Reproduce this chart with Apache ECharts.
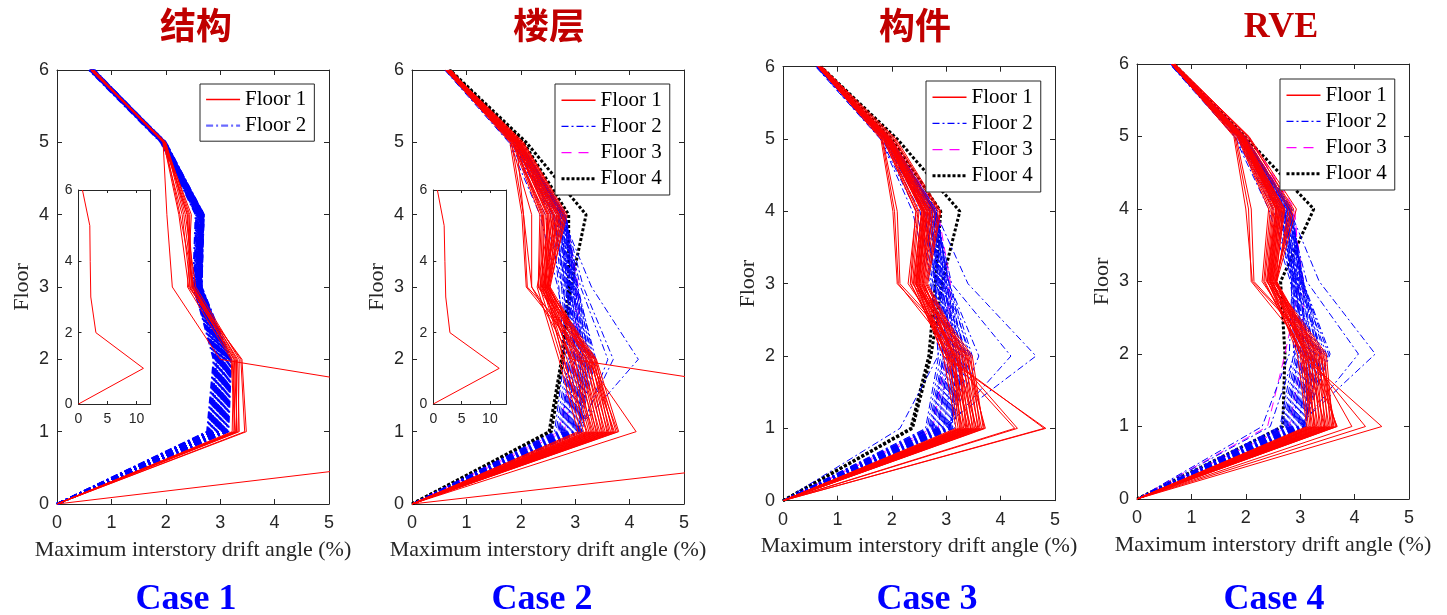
<!DOCTYPE html>
<html><head><meta charset="utf-8">
<script src="https://cdn.jsdelivr.net/npm/echarts@6/dist/echarts.min.js"></script>
<style>html,body{margin:0;padding:0;background:#fff}#c{width:1447px;height:615px}</style>
</head><body><div id="c"></div>
<script>
// ---------------- DATA ----------------
const floors = [0, 1, 2, 3, 4, 5, 6];
const panelTitles = ['结构', '楼层', '构件', 'RVE'];
const caseLabels = ['Case 1', 'Case 2', 'Case 3', 'Case 4'];
const legendNames = ['Floor 1', 'Floor 2', 'Floor 3', 'Floor 4'];
const xAxisName = 'Maximum interstory drift angle (%)';
const yAxisName = 'Floor';

// each row: drift (%) at floors 0..6
const case1Floor1 = [
  [0, 3.22, 3.25, 2.45, 2.30, 1.95, 0.62],
  [0, 3.25, 3.28, 2.48, 2.40, 1.96, 0.63],
  [0, 3.28, 3.22, 2.50, 2.42, 1.97, 0.64],
  [0, 3.30, 3.30, 2.52, 2.26, 1.98, 0.62],
  [0, 3.31, 3.26, 2.44, 2.44, 1.99, 0.65],
  [0, 3.33, 3.35, 2.55, 2.36, 2.00, 0.63],
  [0, 3.48, 3.40, 2.42, 2.24, 1.96, 0.64],
  [0, 3.45, 3.38, 2.47, 2.39, 1.98, 0.66],
  [0, 3.27, 3.20, 2.40, 2.47, 1.97, 0.62],
  [0, 3.35, 3.32, 2.50, 2.33, 1.99, 0.65],
  [0, 11.2, 3.00, 2.12, 2.02, 1.95, 0.68]
];
const case1Floor2 = [
  [0, 2.76, 2.88, 2.52, 2.56, 1.92, 0.60],
  [0, 2.78, 2.90, 2.53, 2.58, 1.93, 0.61],
  [0, 2.80, 2.92, 2.55, 2.60, 1.94, 0.62],
  [0, 2.82, 2.93, 2.56, 2.57, 1.92, 0.60],
  [0, 2.84, 2.95, 2.57, 2.61, 1.95, 0.63],
  [0, 2.85, 2.96, 2.58, 2.63, 1.94, 0.61],
  [0, 2.87, 2.98, 2.56, 2.62, 1.96, 0.62],
  [0, 2.88, 3.00, 2.59, 2.64, 1.93, 0.64],
  [0, 2.90, 3.01, 2.60, 2.60, 1.97, 0.62],
  [0, 2.91, 3.03, 2.58, 2.65, 1.95, 0.63],
  [0, 2.93, 3.04, 2.61, 2.66, 1.96, 0.65],
  [0, 2.94, 3.05, 2.62, 2.63, 1.94, 0.61],
  [0, 2.96, 3.06, 2.60, 2.67, 1.98, 0.64],
  [0, 2.97, 3.08, 2.63, 2.64, 1.95, 0.66],
  [0, 2.98, 3.09, 2.62, 2.68, 1.97, 0.62],
  [0, 3.00, 3.10, 2.64, 2.66, 1.99, 0.65],
  [0, 3.01, 3.11, 2.61, 2.69, 1.96, 0.63],
  [0, 3.03, 3.12, 2.65, 2.67, 1.98, 0.67],
  [0, 3.04, 3.13, 2.63, 2.70, 1.97, 0.64],
  [0, 3.06, 3.14, 2.66, 2.68, 2.00, 0.66],
  [0, 3.07, 3.15, 2.64, 2.69, 1.98, 0.68],
  [0, 3.09, 3.16, 2.62, 2.66, 1.96, 0.65],
  [0, 3.10, 3.17, 2.65, 2.70, 1.99, 0.67],
  [0, 3.12, 3.18, 2.63, 2.67, 1.97, 0.69],
  [0, 3.13, 3.19, 2.66, 2.69, 2.00, 0.66],
  [0, 3.15, 3.20, 2.64, 2.68, 1.98, 0.68],
  [0, 2.79, 2.94, 2.50, 2.55, 1.91, 0.59],
  [0, 2.83, 2.97, 2.54, 2.59, 1.93, 0.62],
  [0, 2.92, 3.02, 2.57, 2.62, 1.95, 0.63],
  [0, 2.99, 3.07, 2.59, 2.65, 1.96, 0.64]
];

const case2Floor1 = [
  [0, 3.05, 2.70, 2.30, 2.55, 1.90, 0.64],
  [0, 3.10, 2.75, 2.35, 2.60, 1.92, 0.65],
  [0, 3.15, 2.80, 2.40, 2.65, 1.95, 0.62],
  [0, 3.20, 2.85, 2.42, 2.70, 1.98, 0.66],
  [0, 3.22, 2.78, 2.45, 2.50, 1.88, 0.63],
  [0, 3.25, 2.90, 2.48, 2.75, 2.00, 0.67],
  [0, 3.28, 2.95, 2.38, 2.45, 1.85, 0.64],
  [0, 3.30, 3.00, 2.50, 2.80, 2.02, 0.68],
  [0, 3.33, 2.92, 2.44, 2.58, 1.93, 0.65],
  [0, 3.35, 3.05, 2.36, 2.40, 1.86, 0.63],
  [0, 3.38, 3.10, 2.52, 2.85, 2.05, 0.69],
  [0, 3.40, 2.98, 2.47, 2.62, 1.96, 0.66],
  [0, 3.42, 3.15, 2.32, 2.35, 1.84, 0.62],
  [0, 3.45, 3.08, 2.41, 2.68, 1.97, 0.67],
  [0, 3.48, 3.20, 2.53, 2.72, 1.99, 0.68],
  [0, 3.50, 3.12, 2.20, 2.20, 1.82, 0.63],
  [0, 3.52, 3.25, 2.46, 2.55, 1.94, 0.65],
  [0, 3.55, 3.18, 2.10, 2.02, 1.80, 0.62],
  [0, 3.58, 3.30, 2.49, 2.78, 2.01, 0.70],
  [0, 3.60, 3.22, 2.43, 2.48, 1.90, 0.64],
  [0, 3.62, 3.35, 2.12, 2.05, 1.83, 0.63],
  [0, 3.65, 3.28, 2.51, 2.66, 1.95, 0.66],
  [0, 3.68, 3.38, 2.39, 2.42, 1.87, 0.64],
  [0, 3.70, 3.32, 2.54, 2.82, 2.04, 0.69],
  [0, 3.72, 3.26, 2.45, 2.52, 1.91, 0.65],
  [0, 3.75, 3.36, 2.33, 2.38, 1.86, 0.63],
  [0, 3.78, 3.30, 2.50, 2.60, 1.94, 0.66],
  [0, 3.80, 3.39, 2.48, 2.70, 1.98, 0.67],
  [0, 4.12, 3.20, 2.40, 2.50, 1.90, 0.64],
  [0, 11.65, 2.94, 2.20, 2.05, 1.92, 0.72]
];
const case2Floor2 = [
  [0, 2.62, 2.80, 2.70, 2.55, 1.82, 0.62],
  [0, 2.65, 2.85, 2.75, 2.60, 1.85, 0.63],
  [0, 2.68, 2.88, 2.78, 2.62, 1.87, 0.61],
  [0, 2.70, 2.92, 2.80, 2.65, 1.88, 0.64],
  [0, 2.72, 2.95, 2.83, 2.68, 1.90, 0.62],
  [0, 2.74, 2.98, 2.85, 2.70, 1.91, 0.65],
  [0, 2.76, 3.00, 2.87, 2.72, 1.92, 0.63],
  [0, 2.78, 3.02, 2.88, 2.66, 1.89, 0.64],
  [0, 2.80, 3.05, 2.90, 2.74, 1.93, 0.66],
  [0, 2.82, 3.08, 2.92, 2.75, 1.94, 0.62],
  [0, 2.84, 3.10, 2.86, 2.70, 1.90, 0.65],
  [0, 2.86, 3.12, 2.95, 2.77, 1.95, 0.67],
  [0, 2.88, 3.15, 2.97, 2.78, 1.96, 0.63],
  [0, 2.90, 3.18, 2.93, 2.73, 1.92, 0.66],
  [0, 2.92, 3.20, 3.00, 2.80, 1.97, 0.64],
  [0, 2.94, 3.22, 2.96, 2.76, 1.94, 0.68],
  [0, 2.96, 3.25, 3.02, 2.82, 1.98, 0.65],
  [0, 2.98, 3.28, 2.99, 2.79, 1.96, 0.67],
  [0, 3.00, 3.30, 3.04, 2.81, 1.99, 0.66],
  [0, 3.02, 3.33, 3.01, 2.77, 1.95, 0.64],
  [0, 3.04, 3.35, 3.05, 2.83, 1.97, 0.68],
  [0, 3.06, 3.38, 3.03, 2.80, 1.98, 0.66],
  [0, 3.08, 3.10, 2.82, 2.60, 1.86, 0.63],
  [0, 3.10, 3.15, 2.89, 2.71, 1.93, 0.65],
  [0, 3.12, 3.05, 2.76, 2.45, 1.80, 0.61],
  [0, 3.14, 3.20, 2.94, 2.74, 1.95, 0.66],
  [0, 2.75, 2.90, 2.68, 2.35, 1.78, 0.60],
  [0, 2.85, 3.00, 2.84, 2.58, 1.84, 0.62],
  [0, 2.95, 3.12, 2.91, 2.69, 1.91, 0.64],
  [0, 3.05, 3.26, 2.98, 2.78, 1.96, 0.66],
  [0, 3.00, 4.16, 3.30, 2.75, 1.95, 0.65],
  [0, 3.05, 3.70, 3.15, 2.80, 1.96, 0.66],
  [0, 3.10, 3.60, 3.10, 2.78, 1.94, 0.64]
];
const case2Floor3 = [
  [0, 2.70, 2.98, 3.02, 2.78, 1.96, 0.65],
  [0, 2.80, 3.05, 3.06, 2.82, 1.98, 0.66]
];
const case2Floor4 = [
  [0, 2.52, 2.75, 2.88, 2.88, 2.05, 0.68],
  [0, 2.56, 2.78, 2.92, 3.20, 2.10, 0.70]
];

const case3Floor1 = [
  [0, 3.18, 2.95, 2.45, 2.60, 1.90, 0.65],
  [0, 3.22, 3.00, 2.50, 2.65, 1.93, 0.66],
  [0, 3.25, 3.05, 2.40, 2.55, 1.88, 0.64],
  [0, 3.28, 3.10, 2.55, 2.70, 1.95, 0.67],
  [0, 3.30, 3.02, 2.35, 2.48, 1.86, 0.65],
  [0, 3.32, 3.15, 2.58, 2.75, 1.98, 0.68],
  [0, 3.35, 3.08, 2.48, 2.62, 1.92, 0.66],
  [0, 3.38, 3.20, 2.30, 2.45, 1.84, 0.64],
  [0, 3.40, 3.12, 2.60, 2.80, 2.00, 0.69],
  [0, 3.42, 3.25, 2.52, 2.68, 1.94, 0.67],
  [0, 3.45, 3.18, 2.12, 2.05, 1.82, 0.65],
  [0, 3.48, 3.30, 2.62, 2.85, 2.03, 0.70],
  [0, 3.50, 3.22, 2.44, 2.58, 1.91, 0.66],
  [0, 3.52, 3.35, 2.10, 2.02, 1.80, 0.64],
  [0, 3.55, 3.28, 2.56, 2.72, 1.97, 0.68],
  [0, 3.58, 3.40, 2.38, 2.50, 1.87, 0.65],
  [0, 3.60, 3.32, 2.64, 2.88, 2.05, 0.71],
  [0, 3.62, 3.45, 2.46, 2.64, 1.93, 0.67],
  [0, 3.65, 3.38, 2.15, 2.10, 1.83, 0.64],
  [0, 3.68, 3.48, 2.53, 2.70, 1.96, 0.69],
  [0, 3.70, 3.42, 2.42, 2.56, 1.90, 0.66],
  [0, 3.72, 3.36, 2.66, 2.90, 2.08, 0.72],
  [0, 3.26, 3.14, 2.50, 2.60, 1.92, 0.66],
  [0, 3.36, 3.24, 2.58, 2.76, 1.99, 0.68],
  [0, 3.46, 3.05, 2.34, 2.44, 1.85, 0.64],
  [0, 3.56, 3.18, 2.47, 2.66, 1.94, 0.67],
  [0, 4.26, 3.05, 2.45, 2.60, 1.92, 0.66],
  [0, 4.31, 3.15, 2.50, 2.65, 1.95, 0.67],
  [0, 4.83, 2.95, 2.40, 2.55, 1.90, 0.65],
  [0, 4.80, 3.00, 2.44, 2.58, 1.91, 0.66]
];
const case3Floor2 = [
  [0, 2.62, 2.86, 2.72, 2.52, 1.82, 0.62],
  [0, 2.65, 2.90, 2.75, 2.58, 1.85, 0.63],
  [0, 2.68, 2.94, 2.78, 2.62, 1.87, 0.61],
  [0, 2.70, 2.97, 2.80, 2.65, 1.88, 0.64],
  [0, 2.72, 3.00, 2.83, 2.68, 1.90, 0.62],
  [0, 2.75, 3.03, 2.85, 2.70, 1.91, 0.65],
  [0, 2.77, 3.06, 2.87, 2.72, 1.92, 0.63],
  [0, 2.80, 3.09, 2.88, 2.66, 1.89, 0.64],
  [0, 2.82, 3.12, 2.90, 2.74, 1.93, 0.66],
  [0, 2.84, 3.15, 2.92, 2.76, 1.94, 0.62],
  [0, 2.86, 3.18, 2.86, 2.70, 1.90, 0.65],
  [0, 2.88, 3.20, 2.95, 2.78, 1.95, 0.67],
  [0, 2.90, 3.23, 2.97, 2.80, 1.96, 0.63],
  [0, 2.92, 3.26, 2.93, 2.73, 1.92, 0.66],
  [0, 2.94, 3.29, 3.00, 2.82, 1.97, 0.64],
  [0, 2.96, 3.32, 2.96, 2.77, 1.94, 0.68],
  [0, 2.98, 3.35, 3.03, 2.83, 1.98, 0.65],
  [0, 3.00, 3.38, 2.99, 2.79, 1.96, 0.67],
  [0, 3.02, 3.42, 3.05, 2.81, 1.99, 0.66],
  [0, 3.04, 3.45, 3.01, 2.84, 1.95, 0.64],
  [0, 3.06, 3.48, 3.06, 2.80, 1.97, 0.68],
  [0, 3.08, 3.20, 2.82, 2.60, 1.86, 0.63],
  [0, 3.10, 3.25, 2.89, 2.71, 1.93, 0.65],
  [0, 3.12, 3.10, 2.76, 2.45, 1.80, 0.61],
  [0, 3.15, 3.30, 2.94, 2.75, 1.95, 0.66],
  [0, 2.74, 2.95, 2.70, 2.38, 1.79, 0.60],
  [0, 2.85, 3.05, 2.84, 2.58, 1.84, 0.62],
  [0, 2.95, 3.16, 2.91, 2.69, 1.91, 0.64],
  [0, 3.05, 3.36, 2.98, 2.78, 1.96, 0.66],
  [0, 2.15, 2.85, 2.80, 2.60, 1.90, 0.64],
  [0, 2.90, 4.65, 3.40, 2.80, 1.95, 0.66],
  [0, 3.00, 4.19, 3.10, 2.80, 1.96, 0.65],
  [0, 3.05, 3.60, 3.05, 2.78, 1.94, 0.64]
];
const case3Floor3 = [
  [0, 2.75, 3.00, 3.05, 2.80, 1.96, 0.65],
  [0, 2.85, 3.05, 3.08, 2.85, 1.98, 0.66]
];
const case3Floor4 = [
  [0, 2.35, 2.68, 2.80, 2.90, 2.00, 0.67],
  [0, 2.38, 2.72, 2.92, 3.25, 2.10, 0.70]
];

const case4Floor1 = [
  [0, 3.12, 2.95, 2.45, 2.60, 1.90, 0.64],
  [0, 3.15, 3.00, 2.50, 2.65, 1.93, 0.65],
  [0, 3.18, 3.05, 2.40, 2.55, 1.88, 0.63],
  [0, 3.20, 3.10, 2.55, 2.70, 1.95, 0.66],
  [0, 3.23, 3.02, 2.35, 2.48, 1.86, 0.64],
  [0, 3.25, 3.15, 2.57, 2.78, 1.98, 0.67],
  [0, 3.28, 3.08, 2.48, 2.62, 1.92, 0.65],
  [0, 3.30, 3.20, 2.30, 2.42, 1.84, 0.63],
  [0, 3.33, 3.12, 2.56, 2.82, 2.00, 0.68],
  [0, 3.35, 3.25, 2.52, 2.68, 1.94, 0.66],
  [0, 3.38, 3.18, 2.10, 2.05, 1.80, 0.64],
  [0, 3.40, 3.30, 2.55, 2.88, 2.03, 0.69],
  [0, 3.43, 3.22, 2.44, 2.58, 1.91, 0.65],
  [0, 3.45, 3.35, 2.12, 2.00, 1.78, 0.63],
  [0, 3.48, 3.28, 2.53, 2.72, 1.97, 0.67],
  [0, 3.50, 3.40, 2.38, 2.50, 1.87, 0.64],
  [0, 3.53, 3.32, 2.57, 2.93, 2.06, 0.70],
  [0, 3.55, 3.45, 2.46, 2.64, 1.93, 0.66],
  [0, 3.58, 3.38, 2.15, 2.10, 1.82, 0.63],
  [0, 3.60, 3.48, 2.50, 2.70, 1.96, 0.68],
  [0, 3.62, 3.42, 2.42, 2.56, 1.90, 0.65],
  [0, 3.65, 3.36, 2.54, 2.85, 2.05, 0.70],
  [0, 3.67, 3.25, 2.47, 2.62, 1.92, 0.66],
  [0, 3.68, 3.15, 2.40, 2.52, 1.89, 0.64],
  [0, 3.27, 3.05, 2.33, 2.45, 1.85, 0.63],
  [0, 3.46, 3.10, 2.49, 2.66, 1.94, 0.66],
  [0, 3.95, 3.20, 2.45, 2.60, 1.92, 0.65],
  [0, 4.20, 3.10, 2.43, 2.57, 1.91, 0.65],
  [0, 4.50, 3.00, 2.40, 2.55, 1.90, 0.64]
];
const case4Floor2 = [
  [0, 2.63, 2.88, 2.84, 2.55, 1.82, 0.62],
  [0, 2.66, 2.92, 2.86, 2.60, 1.85, 0.63],
  [0, 2.69, 2.95, 2.88, 2.63, 1.87, 0.61],
  [0, 2.71, 2.98, 2.90, 2.66, 1.88, 0.64],
  [0, 2.73, 3.01, 2.92, 2.69, 1.90, 0.62],
  [0, 2.76, 3.04, 2.94, 2.71, 1.91, 0.65],
  [0, 2.78, 3.07, 2.96, 2.73, 1.92, 0.63],
  [0, 2.81, 3.10, 2.89, 2.67, 1.89, 0.64],
  [0, 2.83, 3.13, 2.98, 2.75, 1.93, 0.66],
  [0, 2.85, 3.16, 3.00, 2.77, 1.94, 0.62],
  [0, 2.87, 3.19, 2.93, 2.70, 1.90, 0.65],
  [0, 2.89, 3.22, 3.02, 2.79, 1.95, 0.67],
  [0, 2.91, 3.25, 3.04, 2.81, 1.96, 0.63],
  [0, 2.93, 3.28, 2.97, 2.74, 1.92, 0.66],
  [0, 2.95, 3.31, 3.05, 2.83, 1.97, 0.64],
  [0, 2.97, 3.34, 3.01, 2.78, 1.94, 0.68],
  [0, 2.99, 3.37, 3.06, 2.84, 1.98, 0.65],
  [0, 3.01, 3.40, 3.03, 2.80, 1.96, 0.67],
  [0, 3.03, 3.44, 3.06, 2.82, 1.99, 0.66],
  [0, 3.05, 3.48, 3.02, 2.85, 1.95, 0.64],
  [0, 3.07, 3.52, 3.04, 2.81, 1.97, 0.68],
  [0, 3.09, 3.20, 2.87, 2.62, 1.86, 0.63],
  [0, 3.11, 3.26, 2.92, 2.72, 1.93, 0.65],
  [0, 3.12, 3.12, 2.85, 2.50, 1.80, 0.61],
  [0, 2.75, 2.97, 2.82, 2.42, 1.79, 0.60],
  [0, 2.86, 3.08, 2.91, 2.59, 1.84, 0.62],
  [0, 2.96, 3.18, 2.95, 2.70, 1.91, 0.64],
  [0, 3.06, 3.38, 3.00, 2.79, 1.96, 0.66],
  [0, 2.30, 2.80, 2.85, 2.65, 1.90, 0.64],
  [0, 2.45, 2.90, 2.88, 2.70, 1.92, 0.65],
  [0, 2.95, 4.38, 3.35, 2.80, 1.95, 0.66],
  [0, 3.00, 4.07, 3.12, 2.78, 1.96, 0.65],
  [0, 3.05, 3.55, 3.05, 2.76, 1.94, 0.64]
];
const case4Floor3 = [
  [0, 2.40, 2.72, 3.00, 2.90, 2.05, 0.66],
  [0, 2.80, 3.05, 3.06, 2.86, 1.98, 0.66]
];
const case4Floor4 = [
  [0, 2.68, 2.72, 2.64, 3.25, 1.98, 0.68]
];

// inset (full range) shows the outlier record of Floor 1
const inset1Record = case1Floor1[10];
const inset2Record = case2Floor1[29];

// ---------------- STYLES / LAYOUT ----------------
const C_AX = '#262626';
const SERIF = 'Liberation Serif';
const SANS = 'Liberation Sans';
const stRed = { color: '#ff0000', width: 1, type: 'solid' };
const stBlue = { color: '#0000ff', width: 1, type: [7, 3, 2, 3] };
const stBlueThick = { color: '#0000ff', width: 2, type: [7, 3, 2, 3] };
const stMag = { color: '#ff00ff', width: 1, type: [9, 6] };
const stBlack = { color: '#000000', width: 3, type: [3, 2] };

const mainGrids = [
  { left: 57, top: 70, width: 272, height: 434 },
  { left: 412, top: 70, width: 272, height: 434 },
  { left: 783, top: 66.7, width: 272, height: 434 },
  { left: 1137, top: 64, width: 272, height: 435 }
];
const insetGrids = [
  { left: 78.5, top: 190, width: 72.2, height: 214, xmax: 12.45 },
  { left: 433.3, top: 190, width: 73, height: 214, xmax: 12.9 }
];
const titlePos = [[196, 25], [549, 25], [915, 25], [1281, 28]];
const casePos = [[186, 600], [542, 600], [927, 600], [1274, 600]];
const legendPos = [
  { left: 200, top: 84, n: 2 },
  { left: 555, top: 84, n: 4 },
  { left: 926, top: 81, n: 4 },
  { left: 1280, top: 79, n: 4 }
];

const grid = [], xAxis = [], yAxis = [], series = [], legend = [], graphic = [];

function axisCommon(gi, pos, isX, opts) {
  const showLbl = (pos === 'bottom' || pos === 'left');
  return Object.assign({
    type: 'value', gridIndex: gi, position: pos,
    axisLine: { show: true, onZero: false, lineStyle: { color: C_AX, width: 1 } },
    axisTick: { show: true, inside: true, length: opts.tick, lineStyle: { color: C_AX, width: 1 } },
    axisLabel: { show: showLbl, margin: opts.margin, fontFamily: SANS, fontSize: opts.fs, color: C_AX },
    splitLine: { show: false },
    silent: true
  }, opts.extra || {});
}

mainGrids.forEach((g, p) => {
  grid.push({ left: g.left, top: g.top, width: g.width, height: g.height, containLabel: false, outerBoundsMode: 'none' });
  const xe = { min: 0, max: 5, interval: 1 };
  const ye = { min: 0, max: 6, interval: 1 };
  xAxis.push(axisCommon(p, 'bottom', true, { tick: 5, margin: 10, fs: 18, extra: Object.assign({
    name: xAxisName, nameLocation: 'middle', nameGap: 35,
    nameTextStyle: { fontFamily: SERIF, fontSize: 22, color: C_AX } }, xe) }));
  xAxis.push(axisCommon(p, 'top', true, { tick: 5, margin: 10, fs: 18, extra: xe }));
  yAxis.push(axisCommon(p, 'left', false, { tick: 5, margin: 8, fs: 18, extra: Object.assign({
    name: yAxisName, nameLocation: 'middle', nameGap: 24,
    nameTextStyle: { fontFamily: SERIF, fontSize: 22, color: C_AX } }, ye) }));
  yAxis.push(axisCommon(p, 'right', false, { tick: 5, margin: 8, fs: 18, extra: ye }));
});
insetGrids.forEach((g, q) => {
  const gi = 4 + q;
  grid.push({ left: g.left, top: g.top, width: g.width, height: g.height, containLabel: false, outerBoundsMode: 'none' });
  const xe = { min: 0, max: g.xmax, interval: 5 };
  const ye = { min: 0, max: 6, interval: 2 };
  const fmt = v => (Math.abs(v % 5) < 1e-9 ? String(v) : '');
  const xb = axisCommon(gi, 'bottom', true, { tick: 3, margin: 8, fs: 14, extra: xe });
  xb.axisLabel.formatter = fmt; xb.axisLabel.showMaxLabel = false;
  xAxis.push(xb);
  xAxis.push(axisCommon(gi, 'top', true, { tick: 3, margin: 8, fs: 14, extra: xe }));
  yAxis.push(axisCommon(gi, 'left', false, { tick: 3, margin: 6, fs: 14, extra: ye }));
  yAxis.push(axisCommon(gi, 'right', false, { tick: 3, margin: 6, fs: 14, extra: ye }));
});

function addLines(arr, name, style, axisIdx) {
  arr.forEach(vals => {
    series.push({
      type: 'line', name: name, xAxisIndex: axisIdx, yAxisIndex: axisIdx,
      symbol: 'none', silent: true, animation: false, clip: true,
      itemStyle: { color: style.color },
      lineStyle: style,
      data: vals.map((v, i) => [v, floors[i]])
    });
  });
}

const panels = [
  { f1: case1Floor1, f2: case1Floor2, f3: [], f4: [], blue: stBlueThick },
  { f1: case2Floor1, f2: case2Floor2, f3: case2Floor3, f4: case2Floor4, blue: stBlue },
  { f1: case3Floor1, f2: case3Floor2, f3: case3Floor3, f4: case3Floor4, blue: stBlue },
  { f1: case4Floor1, f2: case4Floor2, f3: case4Floor3, f4: case4Floor4, blue: stBlue }
];
panels.forEach((P, p) => {
  const ai = 2 * p;
  addLines(P.f4, legendNames[3], stBlack, ai);
  addLines(P.f3, legendNames[2], stMag, ai);
  addLines(P.f2, legendNames[1], P.blue, ai);
  addLines(P.f1, legendNames[0], stRed, ai);
});
addLines([inset1Record], legendNames[0], stRed, 8);
addLines([inset2Record], legendNames[0], stRed, 10);

const legendStyles = [
  { color: '#ff0000', width: 1.5, type: 'solid' },
  { color: '#0000ff', width: 1.2, type: [7, 3, 2, 3] },
  { color: '#ff00ff', width: 1.2, type: [10, 7] },
  { color: '#000000', width: 3, type: [3, 2] }
];
const HIDDEN_SYMBOL = { color: 'rgba(0,0,0,0)', borderColor: 'rgba(0,0,0,0)', borderWidth: 0, opacity: 0 };
legendPos.forEach((L, p) => {
  const items = legendNames.slice(0, L.n).map((nm, i) => {
    let ls = legendStyles[i];
    if (p === 0 && i === 1) ls = { color: '#6a6aff', width: 2.2, type: [7, 3, 2, 3] };
    return { name: nm, lineStyle: Object.assign({ opacity: 1 }, ls), itemStyle: HIDDEN_SYMBOL };
  });
  legend.push({
    show: true, orient: 'vertical', left: L.left, top: L.top,
    padding: L.n === 2 ? [5, 8, 5, 5] : [5.7, 8, 5.7, 5],
    itemGap: 5.2, itemWidth: 34, itemHeight: 12, align: 'left',
    borderColor: C_AX, borderWidth: 1, borderRadius: 0, backgroundColor: '#ffffff',
    selectedMode: false,
    textStyle: { fontFamily: SERIF, fontSize: 21, color: '#000000', padding: 0 },
    data: items
  });
});

panelTitles.forEach((t, p) => {
  const isLatin = /^[A-Za-z]+$/.test(t);
  graphic.push({
    type: 'text', x: titlePos[p][0], y: titlePos[p][1], silent: true,
    style: {
      text: t, fill: '#c00000',
      font: isLatin ? 'bold 36px "Liberation Serif"' : 'bold 36px "Noto Sans CJK SC"',
      textAlign: 'center', textVerticalAlign: 'middle', align: 'center', verticalAlign: 'middle'
    }
  });
});
caseLabels.forEach((t, p) => {
  graphic.push({
    type: 'text', x: casePos[p][0], y: casePos[p][1], silent: true,
    style: {
      text: t, fill: '#0000ff', font: 'bold 36px "Liberation Serif"',
      textAlign: 'center', textVerticalAlign: 'middle', align: 'center', verticalAlign: 'middle'
    }
  });
});

const chart = echarts.init(document.getElementById('c'), null, { renderer: 'canvas', width: 1447, height: 615 });
chart.setOption({
  animation: false,
  backgroundColor: '#ffffff',
  grid, xAxis, yAxis, series, legend, graphic,
  tooltip: { show: false }
});
</script>
</body></html>
